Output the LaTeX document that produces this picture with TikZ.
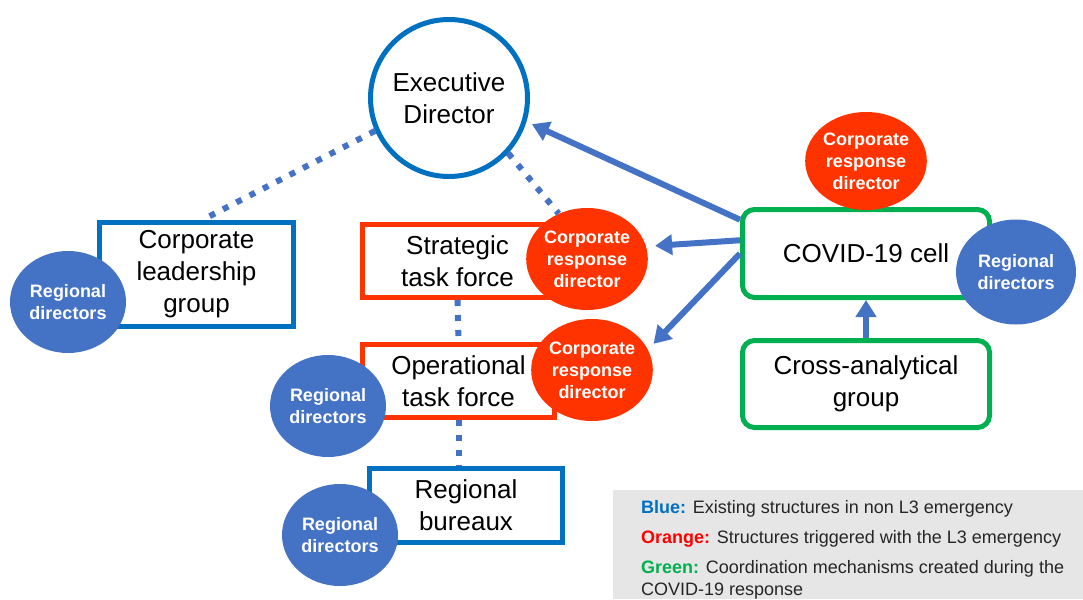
\documentclass[tikz,border=0pt]{standalone}
\usepackage{fontspec}
\setmainfont{Liberation Sans}
\usetikzlibrary{shapes.geometric,arrows.meta}

\definecolor{edgeblue}{HTML}{0070C0}
\definecolor{fillblue}{HTML}{4472C4}
\definecolor{trigred}{HTML}{FF3300}
\definecolor{keyred}{HTML}{FF0000}
\definecolor{coordgreen}{HTML}{00B050}
\definecolor{keygray}{HTML}{E7E6E6}

\begin{document}
\begin{tikzpicture}[x=1pt,y=-1pt,
  unit/.style={draw, line width=5pt, fill=white, inner sep=0pt, align=center,
               font=\fontsize{26}{32}\selectfont},
  bluebox/.style={unit, draw=edgeblue},
  redbox/.style={unit, draw=trigred},
  greenbox/.style={unit, draw=coordgreen, rounded corners=12pt},
  role/.style={ellipse, inner sep=0pt, align=center, text=white,
               minimum width=116pt, minimum height=102pt,
               font=\fontsize{18}{22}\selectfont\bfseries},
  regdir/.style={role, fill=fillblue},
  crd/.style={role, fill=trigred},
  dotlink/.style={fillblue, line width=6pt, dash pattern=on 6pt off 9pt},
  feed/.style={fillblue, line width=6pt, -{Triangle[length=17pt,width=20pt]}}]
  \useasboundingbox (0,0) rectangle (1083,599);

  % top of the structure
  \node[unit, circle, draw=edgeblue, minimum size=157pt] (ed) at (449,98) {Executive\\Director};

  % standing and triggered bodies
  \node[bluebox, minimum width=194pt, minimum height=104pt] (clg) at (196.5,274.5) {Corporate\\leadership\\group};
  \node[redbox, minimum width=190pt, minimum height=73pt] (stf) at (457.5,261) {Strategic\\task force};
  \node[redbox, minimum width=192pt, minimum height=73pt] (otf) at (458.5,381) {Operational\\task force};
  \node[bluebox, minimum width=193pt, minimum height=74pt] (rb) at (466,505.5) {Regional\\bureaux};
  \node[greenbox, minimum width=247pt, minimum height=88pt] (cell) at (866,253.5) {COVID-19 cell};
  \node[greenbox, minimum width=247pt, minimum height=87pt] (cag) at (866,384) {Cross-analytical\\group};

  % people attached to the bodies
  \foreach \name/\x/\y in {rdA/68/302, rdB/328/406, rdC/340/535}
    { \node[regdir] (\name) at (\x,\y) {Regional\\directors}; }
  \node[regdir, minimum width=120pt, minimum height=105pt] (rdD) at (1016,272) {Regional\\directors};
  \foreach \name/\x/\y in {crdA/587/259, crdB/592/370}
    { \node[crd] (\name) at (\x,\y) {Corporate\\response\\director}; }
  \node[crd, minimum height=98pt] (crdC) at (866,161) {Corporate\\response\\director};

  % reporting lines
  \draw[dotlink] (ed.204) -- (clg.84);
  \draw[dotlink] (ed.-43) -- (crdA.122);
  \draw[dotlink] (stf.south) -- (otf.north);
  \draw[dotlink] (otf.south) -- (otf.south |- rb.north);

  % what the cell feeds
  \draw[feed, shorten >=6pt] (cell.165) -- (ed.-17);
  \draw[feed, shorten >=9pt] (cell.174) -- (crdA.12);
  \draw[feed, shorten >=8pt] (cell.180) -- (crdB.20);
  \draw[feed] (cag.north) -- (cell.south);

  % colour key
  \node[fill=keygray, anchor=north west, inner sep=0pt, minimum width=470pt, minimum height=109pt] (keybg) at (613,490) {};
  \node[anchor=north west, inner sep=0pt, align=left, text=black!85,
        font=\fontsize{18}{22}\selectfont] (key) at (641,500)
    {\textcolor{edgeblue}{\bfseries Blue:} Existing structures in non L3 emergency\\[8pt]
     \textcolor{keyred}{\bfseries Orange:} Structures triggered with the L3 emergency\\[8pt]
     \textcolor{coordgreen}{\bfseries Green:} Coordination mechanisms created during the\\
     COVID-19 response};
\end{tikzpicture}
\end{document}
